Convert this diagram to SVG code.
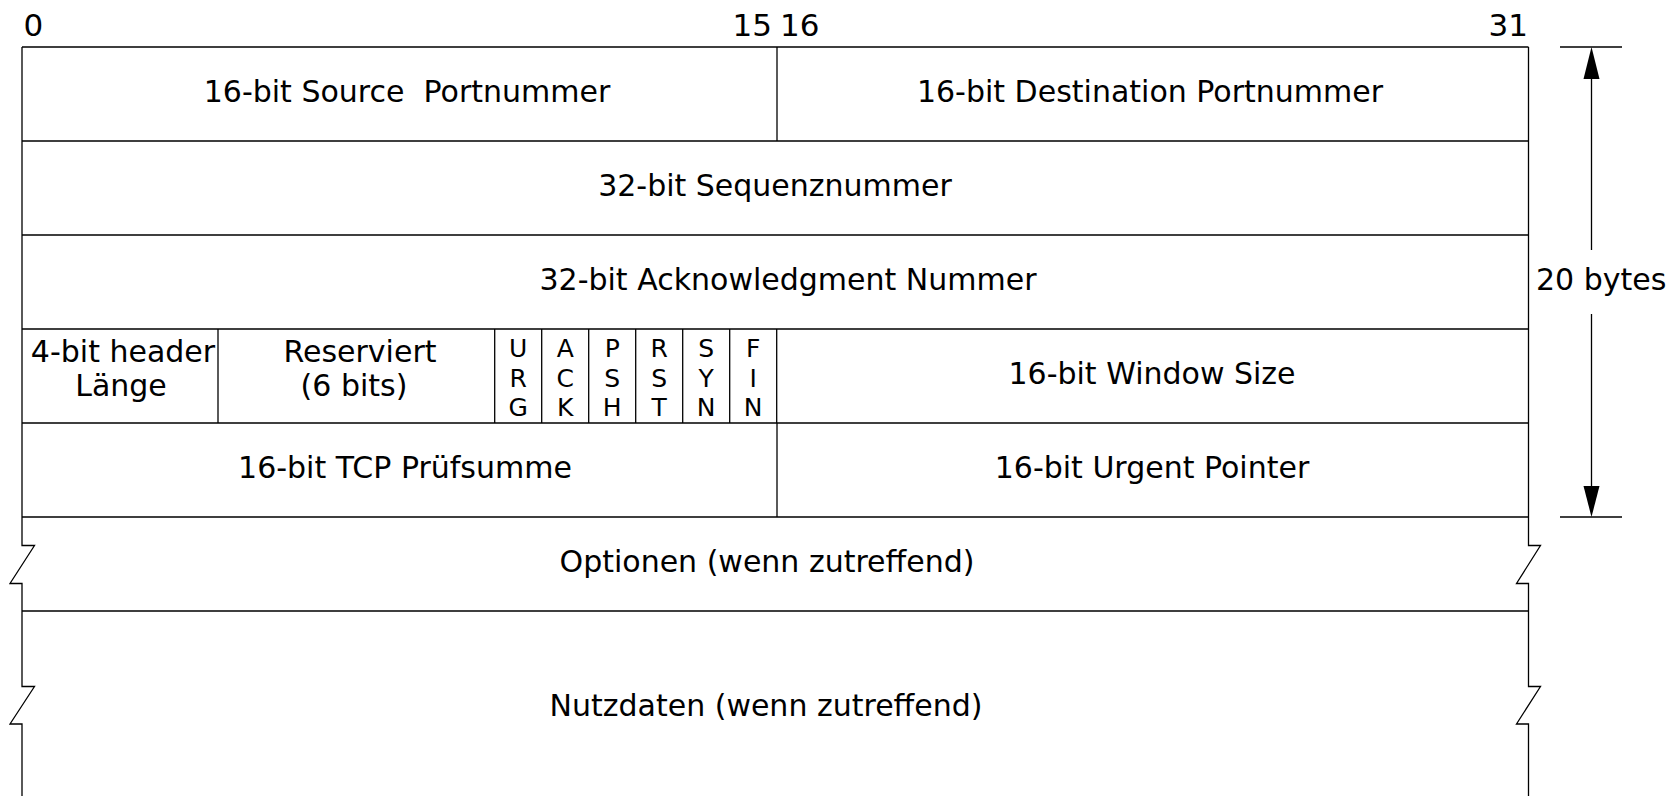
<svg xmlns="http://www.w3.org/2000/svg" width="1676" height="796" viewBox="0 0 1676 796">
<style>
  .ln { stroke:#000; stroke-width:1.3; fill:none; }
  .t { font-family:"DejaVu Sans","Liberation Sans",sans-serif; font-size:30px; fill:#000; text-anchor:middle; }
  .f { font-family:"DejaVu Sans","Liberation Sans",sans-serif; font-size:25px; fill:#000; text-anchor:middle; }
  .n { font-family:"DejaVu Sans","Liberation Sans",sans-serif; font-size:31px; fill:#000; }
  .s { font-family:"DejaVu Sans","Liberation Sans",sans-serif; font-size:30px; fill:#000; text-anchor:start; }
  .e { text-anchor:end; }
  .ah { fill:#000; stroke:none; }
</style>

<g id="bit-labels">
  <text class="n" x="23.5" y="36">0</text>
  <text class="n e" x="772" y="36">15</text>
  <text class="n" x="780" y="36">16</text>
  <text class="n e" x="1528" y="36">31</text>
</g>

<g id="frame">
  <path class="ln" d="M22,47 V545.5 H34.5 L10,583.5 H22 V686.5 H34.5 L10,724 H22 V796"/>
  <path class="ln" d="M1528.5,47 V545.5 H1540.5 L1516.5,583.5 H1528.5 V686.5 H1540.5 L1516.5,724 H1528.5 V796"/>
  <path class="ln" d="M22,47 H1528.5 M22,141 H1528.5 M22,235 H1528.5 M22,329 H1528.5 M22,423 H1528.5 M22,517 H1528.5 M22,611 H1528.5"/>
</g>

<g id="source-port">
  <text class="t" x="407" y="102" xml:space="preserve" style="white-space:pre">16-bit Source  Portnummer</text>
</g>
<g id="destination-port">
  <path class="ln" d="M777,47 V141"/>
  <text class="t" x="1150" y="102">16-bit Destination Portnummer</text>
</g>
<g id="sequence-number">
  <text class="t" x="775" y="196">32-bit Sequenznummer</text>
</g>
<g id="ack-number">
  <text class="t" x="788" y="290">32-bit Acknowledgment Nummer</text>
</g>
<g id="header-length">
  <path class="ln" d="M218,329 V423"/>
  <text class="t" x="123" y="362">4-bit header<tspan x="121" y="396">Länge</tspan></text>
</g>
<g id="reserved">
  <path class="ln" d="M494.7,329 V423"/>
  <text class="t" x="360" y="362">Reserviert<tspan x="354" y="396">(6 bits)</tspan></text>
</g>
<g id="flag-urg">
  <path class="ln" d="M541.7,329 V423"/>
  <text class="f" x="518.2" y="357">U<tspan x="518.2" y="386.5">R</tspan><tspan x="518.2" y="416">G</tspan></text>
</g>
<g id="flag-ack">
  <path class="ln" d="M588.7,329 V423"/>
  <text class="f" x="565.2" y="357">A<tspan x="565.2" y="386.5">C</tspan><tspan x="565.2" y="416">K</tspan></text>
</g>
<g id="flag-psh">
  <path class="ln" d="M635.7,329 V423"/>
  <text class="f" x="612.2" y="357">P<tspan x="612.2" y="386.5">S</tspan><tspan x="612.2" y="416">H</tspan></text>
</g>
<g id="flag-rst">
  <path class="ln" d="M682.7,329 V423"/>
  <text class="f" x="659.2" y="357">R<tspan x="659.2" y="386.5">S</tspan><tspan x="659.2" y="416">T</tspan></text>
</g>
<g id="flag-syn">
  <path class="ln" d="M729.7,329 V423"/>
  <text class="f" x="706.2" y="357">S<tspan x="706.2" y="386.5">Y</tspan><tspan x="706.2" y="416">N</tspan></text>
</g>
<g id="flag-fin">
  <path class="ln" d="M776.7,329 V423"/>
  <text class="f" x="753.2" y="357">F<tspan x="753.2" y="386.5">I</tspan><tspan x="753.2" y="416">N</tspan></text>
</g>
<g id="window-size">
  <text class="t" x="1152" y="384">16-bit Window Size</text>
</g>
<g id="checksum">
  <text class="t" x="405" y="478">16-bit TCP Prüfsumme</text>
</g>
<g id="urgent-pointer">
  <path class="ln" d="M777,423 V517"/>
  <text class="t" x="1152" y="478">16-bit Urgent Pointer</text>
</g>
<g id="options">
  <text class="t" x="767" y="572">Optionen (wenn zutreffend)</text>
</g>
<g id="payload">
  <text class="t" x="766" y="716">Nutzdaten (wenn zutreffend)</text>
</g>

<g id="connectors">
  <path class="ln" d="M1560,47 H1622 M1560,517 H1622"/>
  <path class="ln" d="M1591.5,75 V250 M1591.5,314 V490"/>
  <polygon class="ah" points="1591.5,47 1583.5,79 1599.5,79"/>
  <polygon class="ah" points="1591.5,517 1583.5,486 1599.5,486"/>
  <text class="s" x="1536" y="290">20 bytes</text>
</g>
</svg>
